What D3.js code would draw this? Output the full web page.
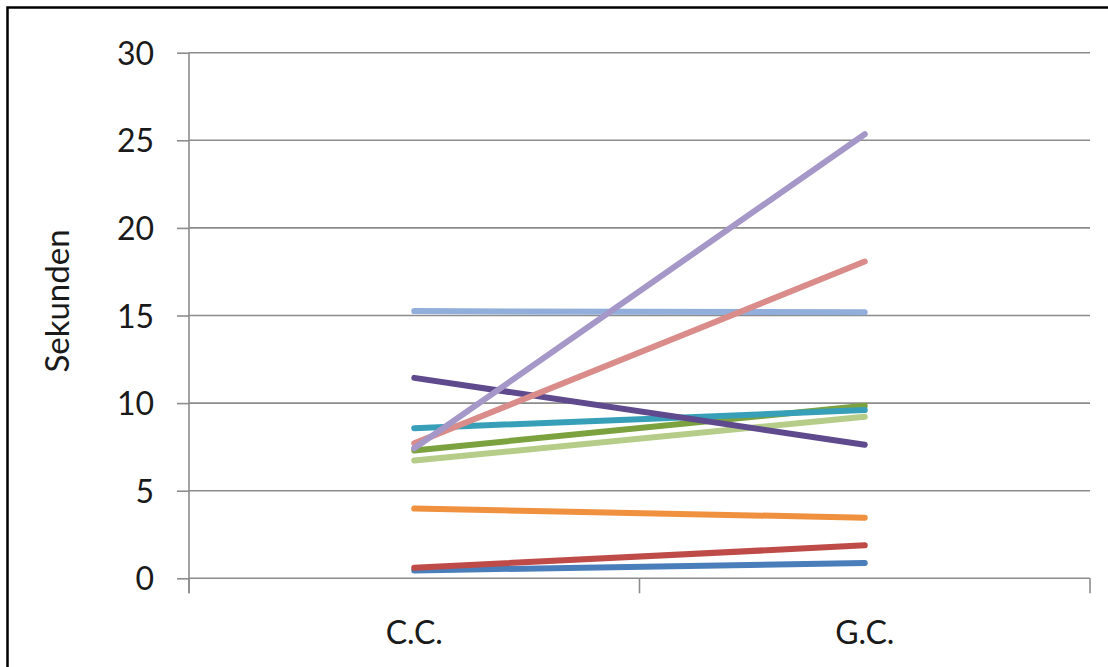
<!DOCTYPE html>
<html>
<head>
<meta charset="utf-8">
<script src="https://cdn.jsdelivr.net/npm/d3@7"></script>
<style>
  html, body { margin: 0; padding: 0; background: #fff; }
  svg { display: block; }
  text { font-family: Lato, "Open Sans", sans-serif; fill: #1a1a1a; }
</style>
</head>
<body>
<svg id="chart" width="1108" height="667"></svg>
<script>
// ---- data ----
const categories = ["C.C.", "G.C."];
const seriesNames = ["s1","s2","s3","s4","s5","s6","s7","s8","s9","s10"];
const blueVals      = [0.45, 0.87];
const redVals       = [0.6, 1.88];
const orangeVals    = [3.98, 3.46];
const lightGreenVals= [6.72, 9.22];
const greenVals     = [7.3, 9.85];
const tealVals      = [8.57, 9.6];
const darkPurpleVals= [11.44, 7.62];
const lightBlueVals = [15.25, 15.18];
const pinkVals      = [7.7, 18.08];
const lavenderVals  = [7.42, 25.35];
const yTicks = [0, 5, 10, 15, 20, 25, 30];
const yLabel = "Sekunden";

const series = [
  { name: seriesNames[0], values: blueVals,       color: "#4A7EBB" },
  { name: seriesNames[1], values: redVals,        color: "#BE4B48" },
  { name: seriesNames[2], values: orangeVals,     color: "#F0913F" },
  { name: seriesNames[3], values: lightGreenVals, color: "#B5CD89" },
  { name: seriesNames[4], values: greenVals,      color: "#7BA23F" },
  { name: seriesNames[5], values: tealVals,       color: "#37A0B8" },
  { name: seriesNames[6], values: darkPurpleVals, color: "#5E4A8C" },
  { name: seriesNames[7], values: lightBlueVals,  color: "#92AEDA" },
  { name: seriesNames[8], values: pinkVals,       color: "#D98C8A" },
  { name: seriesNames[9], values: lavenderVals,   color: "#A597C8" }
];

// ---- layout ----
const svg = d3.select("#chart");
const pLeft = 189, pRight = 1090, pTop = 52.7, pBottom = 578.3;

const x = d3.scaleBand().domain(categories).range([pLeft, pRight]);
const y = d3.scaleLinear().domain([0, 30]).range([pBottom, pTop]);

// outer border
svg.append("rect")
  .attr("x", 7.5).attr("y", 7.5)
  .attr("width", 1300).attr("height", 900)
  .attr("fill", "none").attr("stroke", "#000").attr("stroke-width", 2.5);

// gridlines
svg.append("g").selectAll("line")
  .data(yTicks.filter(d => d !== 0))
  .join("line")
  .attr("x1", pLeft).attr("x2", pRight)
  .attr("y1", d => y(d)).attr("y2", d => y(d))
  .attr("stroke", "#8c8c8c").attr("stroke-width", 1.6);

// y axis
const yAxis = svg.append("g")
  .attr("transform", `translate(${pLeft},0)`)
  .call(d3.axisLeft(y).tickValues(yTicks).tickSize(12).tickPadding(23));
yAxis.select(".domain").attr("stroke", "#8c8c8c").attr("stroke-width", 1.6)
  .attr("d", `M0,${pTop}V${pBottom + 15}`);
yAxis.selectAll(".tick line").attr("stroke", "#8c8c8c").attr("stroke-width", 1.6);
yAxis.selectAll(".tick text")
  .attr("font-size", 32).attr("font-family", "Lato, sans-serif")
  .attr("fill", "#1a1a1a").attr("dy", "0.36em");

// x axis
const xAxis = svg.append("g")
  .attr("transform", `translate(0,${pBottom})`)
  .call(d3.axisBottom(x).tickSize(0).tickPadding(66));
xAxis.select(".domain").attr("stroke", "#8c8c8c").attr("stroke-width", 1.6)
  .attr("d", `M${pLeft},0H${pRight}`);
xAxis.selectAll(".tick text")
  .attr("font-size", 32).attr("font-family", "Lato, sans-serif")
  .attr("fill", "#1a1a1a").attr("dy", "0");
// category boundary ticks
const bounds = [pLeft, pLeft + x.step(), pRight];
svg.append("g").selectAll("line").data(bounds).join("line")
  .attr("x1", d => d).attr("x2", d => d)
  .attr("y1", pBottom).attr("y2", pBottom + 15)
  .attr("stroke", "#8c8c8c").attr("stroke-width", 1.6);

// y label
svg.append("text")
  .attr("transform", `translate(69,${301}) rotate(-90)`)
  .attr("text-anchor", "middle")
  .attr("font-size", 33)
  .text(yLabel);

// lines
const line = d3.line()
  .x((d, i) => x(categories[i]) + x.bandwidth() / 2)
  .y(d => y(d));

svg.append("g").selectAll("path")
  .data(series)
  .join("path")
  .attr("d", d => line(d.values))
  .attr("fill", "none")
  .attr("stroke", d => d.color)
  .attr("stroke-width", 6)
  .attr("stroke-linecap", "round");
</script>
</body>
</html>
